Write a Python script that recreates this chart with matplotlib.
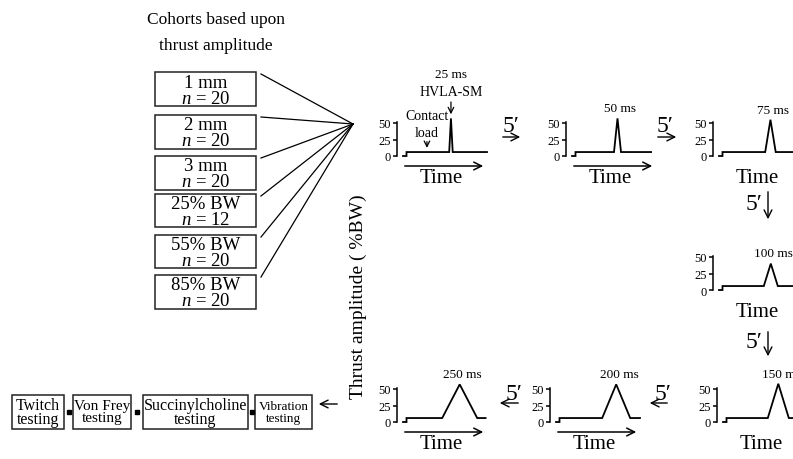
"""
Thrust amplitude cohorts and HVLA-SM thrust duration protocol
"""
import numpy as np
import matplotlib
matplotlib.use('Agg')
import matplotlib.pyplot as plt
from matplotlib.patches import Rectangle

plt.rcParams['font.family'] = ['Liberation Serif', 'DejaVu Serif']
plt.rcParams['mathtext.fontset'] = 'custom'
plt.rcParams['mathtext.rm'] = 'Liberation Serif'
plt.rcParams['mathtext.it'] = 'Liberation Serif:italic'

# Cohorts
cohort_labels = ['1 mm', '2 mm', '3 mm', '25% BW', '55% BW', '85% BW']
cohort_n = [20, 20, 20, 12, 20, 20]

# Thrust durations (ms) in protocol order, with read-off trace shape
durations_ms = [25, 50, 75, 100, 150, 200, 250]
onset_ms = [330, 300, 330, 320, 320, 330, 280]
peak_bw = [57, 57, 55, 40, 58, 57, 57]
trace_end_ms = [600, 565, 600, 600, 600, 600, 590]
contact_load_bw = 6
contact_step_ms = 25

# Post-thrust tests
tests = ['Twitch\ntesting', 'Von Frey\ntesting', 'Succinylcholine\ntesting', 'Vibration\ntesting']

W, H = 793, 460
fig = plt.figure(figsize=(W / 100, H / 100), dpi=100)
ax = fig.add_axes([0, 0, 1, 1])
ax.set_xlim(0, W)
ax.set_ylim(H, 0)
ax.axis('off')

# ---- cohort column ----
ax.text(216, 20, 'Cohorts based upon', ha='center', va='center', fontsize=12.5)
ax.text(216, 46, 'thrust amplitude', ha='center', va='center', fontsize=12.5)

box_tops = [73, 116, 157, 195, 236, 276]
box_h = [34, 34, 34, 33, 33, 34]
hub = (353, 125)
for lab, n, top, h in zip(cohort_labels, cohort_n, box_tops, box_h):
    ax.add_patch(Rectangle((155, top), 101, h, fill=False, lw=1.1, ec='#222222'))
    ax.text(205.5, top + 10, lab, ha='center', va='center', fontsize=13.5)
    ax.text(205.5, top + 26, '$n$ = %d' % n, ha='center', va='center', fontsize=13.5)
    ax.plot([261, hub[0]], [top + 2, hub[1]], color='black', lw=0.9)

ax.text(358, 297, 'Thrust amplitude ( %BW)', rotation=90, ha='center', va='center', fontsize=14)

# ---- thrust traces ----
panel_pos = [(403, 157), (572, 157), (719, 157), (719, 291), (723, 423), (556, 423), (403, 423)]
px_per_ms = 0.14
px_per_bw = 0.66
x_span = 600
y_span = 62

for i, (x0, y0) in enumerate(panel_pos):
    d = durations_ms[i]
    o = onset_ms[i]
    t = [0, contact_step_ms, contact_step_ms, o, o + d / 2, o + d, trace_end_ms[i]]
    y = [0, 0, contact_load_bw, contact_load_bw, peak_bw[i], contact_load_bw, contact_load_bw]
    pax = fig.add_axes([x0 / W, 1 - y0 / H, x_span * px_per_ms / W, y_span * px_per_bw / H])
    pax.patch.set_alpha(0)
    pax.plot(t, y, color='black', lw=1.3, clip_on=False, solid_joinstyle='miter')
    pax.set_xlim(0, x_span)
    pax.set_ylim(0, y_span)
    for s in ['top', 'right', 'bottom']:
        pax.spines[s].set_visible(False)
    pax.spines['left'].set_position(('outward', 4))
    pax.spines['left'].set_bounds(0, 52)
    pax.spines['left'].set_linewidth(1.1)
    pax.set_xticks([])
    pax.set_yticks([0, 25, 50])
    pax.tick_params(axis='y', length=3, width=1.1, pad=2, labelsize=9)
    if i == 0:
        pax.annotate('', xy=(o + d / 2, peak_bw[i] + 2), xytext=(o + d / 2, peak_bw[i] + 29),
                     arrowprops=dict(arrowstyle='->', lw=0.9), annotation_clip=False)
        pax.text(o + d / 2, peak_bw[i] + 40, 'HVLA-SM', ha='center', va='center', fontsize=10)
        pax.text(o + d / 2, peak_bw[i] + 68, '%d ms' % d, ha='center', va='center', fontsize=9.5)
        pax.text(171, 61, 'Contact', ha='center', va='center', fontsize=10)
        pax.text(171, 36, 'load', ha='center', va='center', fontsize=10)
        pax.annotate('', xy=(171, contact_load_bw + 2), xytext=(171, 26),
                     arrowprops=dict(arrowstyle='->', lw=0.9), annotation_clip=False)
    else:
        pax.annotate('%d ms' % d, xy=(o + d / 2, peak_bw[i]), xytext=(2, 3),
                     textcoords='offset points', ha='center', va='bottom', fontsize=9.5,
                     annotation_clip=False)
    # time axis arrow + label
    ax.annotate('', xy=(x0 + 83, y0 + 10), xytext=(x0 - 1, y0 + 10),
                arrowprops=dict(arrowstyle='->', lw=1.1, mutation_scale=14))
    ax.text(x0 + 38, y0 + 22, 'Time', ha='center', va='center', fontsize=15)

# ---- 5' rest arrows ----
right_links = [(511, 500, 523), (665, 655, 679)]
for tx, xa, xb in right_links:
    ax.text(tx, 126, '5′', ha='center', va='center', fontsize=17)
    ax.annotate('', xy=(xb, 138), xytext=(xa, 138), arrowprops=dict(arrowstyle='->', lw=1, mutation_scale=14))

down_links = [(205, 190, 223), (343, 330, 360)]
for ty, ya, yb in down_links:
    ax.text(754, ty, '5′', ha='center', va='center', fontsize=17)
    ax.annotate('', xy=(768, yb), xytext=(768, ya), arrowprops=dict(arrowstyle='->', lw=1, mutation_scale=14))

left_links = [(514, 521, 497), (663, 670, 647)]
for tx, xa, xb in left_links:
    ax.text(tx, 395, '5′', ha='center', va='center', fontsize=17)
    ax.annotate('', xy=(xb, 404), xytext=(xa, 404), arrowprops=dict(arrowstyle='->', lw=1, mutation_scale=14))

# ---- post tests ----
test_x = [(12, 64), (73, 131), (143, 248), (255, 312)]
test_fs = [11.5, 11, 11.5, 9.5]
tb_top, tb_bot = 396, 430
for (xl, xr), lab, fs in zip(test_x, tests, test_fs):
    ax.add_patch(Rectangle((xl, tb_top), xr - xl, tb_bot - tb_top, fill=False, lw=1.1, ec='#222222'))
    ax.text((xl + xr) / 2, (tb_top + tb_bot) / 2, lab, ha='center', va='center', fontsize=fs,
            linespacing=0.9)
for (xl, xr), (nl, nr) in zip(test_x[:-1], test_x[1:]):
    ax.add_patch(Rectangle(((xr + nl) / 2 - 2, 411), 4, 4, color='black'))
ax.annotate('', xy=(316, 405), xytext=(340, 405), arrowprops=dict(arrowstyle='->', lw=1, mutation_scale=14))

fig.savefig('out.png', dpi=100)
